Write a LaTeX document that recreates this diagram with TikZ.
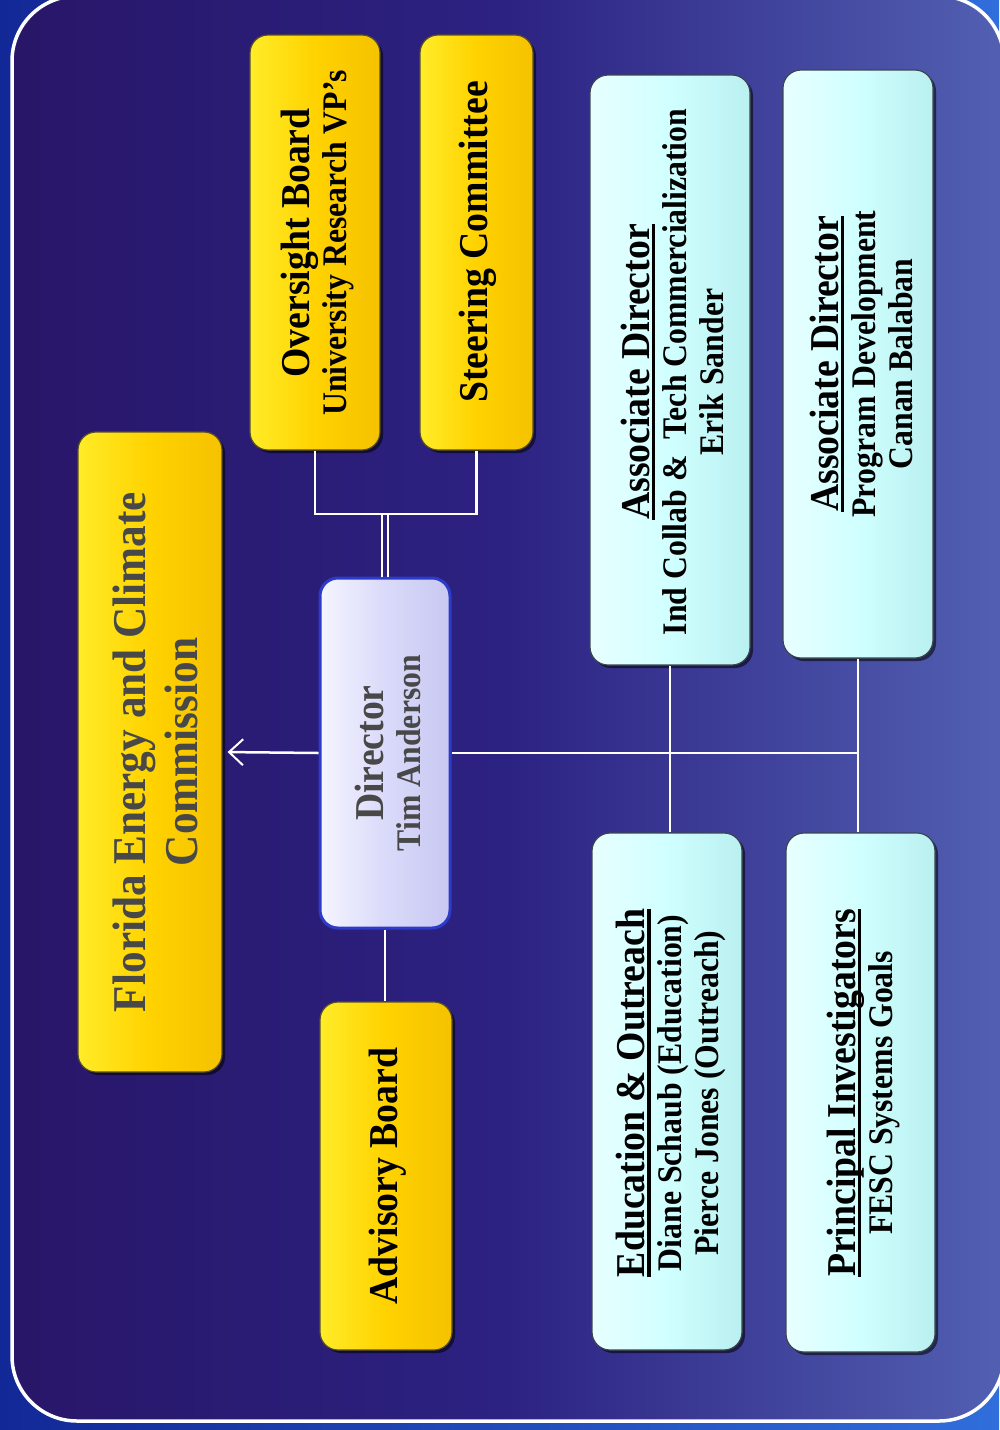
\documentclass[tikz,border=0pt]{standalone}
\usepackage{fontspec}
\setmainfont{Liberation Serif}[FakeStretch=0.92]
\usetikzlibrary{arrows.meta,shadows,calc}
\definecolor{outL}{RGB}{18,40,150}
\definecolor{outR}{RGB}{48,110,220}
\definecolor{inL}{RGB}{40,22,104}
\definecolor{inM}{RGB}{44,34,130}
\definecolor{inR}{RGB}{82,96,178}
\definecolor{yL}{RGB}{255,236,40}
\definecolor{yM}{RGB}{255,210,0}
\definecolor{yR}{RGB}{245,194,0}
\definecolor{ydraw}{RGB}{90,80,40}
\definecolor{cL}{RGB}{232,255,255}
\definecolor{cM}{RGB}{208,255,255}
\definecolor{cR}{RGB}{186,240,240}
\definecolor{cdraw}{RGB}{60,70,80}
\definecolor{dL}{RGB}{245,245,255}
\definecolor{dM}{RGB}{218,218,250}
\definecolor{dR}{RGB}{200,200,242}
\definecolor{ddraw}{RGB}{45,60,200}
\definecolor{greytxt}{RGB}{72,72,72}
\newcommand\hdf{\fontsize{41}{45}\selectfont}
\newcommand\subf{\fontsize{34.5}{37}\selectfont}
\newcommand\ulin[1]{\setbox0=\hbox{#1}\rlap{\rule[-6pt]{\wd0}{3.2pt}}\box0}
\tikzset{
  ybox/.style={rectangle, rounded corners=18pt, draw=ydraw, line width=1.2pt,
    left color=yL, right color=yR, middle color=yM,
    drop shadow={shadow xshift=3pt, shadow yshift=-3pt, opacity=0.55, fill=black}},
  cbox/.style={rectangle, rounded corners=18pt, draw=cdraw, line width=1.2pt,
    left color=cL, right color=cR, middle color=cM,
    drop shadow={shadow xshift=3pt, shadow yshift=-3pt, opacity=0.55, fill=black}},
  dbox/.style={rectangle, rounded corners=18pt, draw=ddraw, line width=3pt,
    left color=dL, right color=dR, middle color=dM},
  txt/.style={rotate=90, align=center, font=\bfseries\subf, inner sep=0pt},
  conn/.style={draw=white, line width=2.5pt},
}
\begin{document}
\begin{tikzpicture}[x=1pt,y=-1pt]
\useasboundingbox (0,0) rectangle (999,1430);
% background
\shade[left color=outL, right color=outR] (0,0) rectangle (999,1430);
\shade[rounded corners=65pt, left color=inL, right color=inR, middle color=inM] (12,-4) rectangle (1004,1421);
\draw[white, line width=3.5pt, rounded corners=65pt] (12,-4) rectangle (1004,1421);
% boxes
\node[ybox, minimum width=144pt, minimum height=640pt] (fecc) at (150,752) {};
\node[ybox, minimum width=130pt, minimum height=415pt] (ob) at (315,242.5) {};
\node[ybox, minimum width=113pt, minimum height=415pt] (sc) at (476.5,242.5) {};
\node[dbox, minimum width=130pt, minimum height=350pt] (dir) at (385,753) {};
\node[ybox, minimum width=132pt, minimum height=348pt] (ab) at (386,1176) {};
\node[cbox, minimum width=160pt, minimum height=590pt] (ad1) at (670,370) {};
\node[cbox, minimum width=150pt, minimum height=588pt] (ad2) at (858,364) {};
\node[cbox, minimum width=150pt, minimum height=517pt] (eo) at (667,1091.5) {};
\node[cbox, minimum width=149pt, minimum height=519pt] (pi) at (860.5,1092.5) {};
% texts
\node[txt, text=greytxt, font=\bfseries\fontsize{47}{52}\selectfont] (fecc-t) at (155,752) {Florida Energy and Climate\\Commission};
\node[txt] (ob-t) at (317,243) {{\hdf Oversight Board}\\University Research VP's};
\node[txt] (sc-t) at (478,242) {\hdf Steering Committee};
\node[txt, text=greytxt] (dir-t) at (388,753) {{\hdf Director}\\Tim Anderson};
\node[txt] (ab-t) at (388,1176) {\hdf Advisory Board};
\node[txt] (ad1-t) at (672,372) {{\hdf\ulin{Associate Director}}\\Ind Collab \&\ \ Tech Commercialization\\Erik Sander};
\node[txt] (ad2-t) at (861,364) {{\hdf\ulin{Associate Director}}\\Program Development\\Canan Balaban};
\node[txt] (eo-t) at (671,1093) {{\hdf\ulin{Education \& Outreach}}\\Diane Schaub (Education)\\Pierce Jones (Outreach)};
\node[txt] (pi-t) at (863,1093) {{\hdf\ulin{Principal Investigators}}\\FESC Systems Goals};
% connectors
\coordinate (j) at (385,514);
\draw[conn, shorten >=5pt, -{Straight Barb[length=14pt,width=26pt,line width=2pt]}] (dir.west) -- (fecc.east);
\draw[conn, line width=2.2pt] ([xshift=-2.8pt]dir.north) -- ([xshift=-2.8pt]dir.north |- j);
\draw[conn, line width=2.2pt] ([xshift=2.8pt]dir.north) -- ([xshift=2.8pt]dir.north |- j);
\draw[conn] (ob.south) -- (ob.south |- j) -- (sc.south |- j) -- (sc.south);
\draw[conn] (dir.south) -- (ab.north -| dir.south);
\draw[conn] (dir.east) -- (dir.east -| ad2.south);
\draw[conn] (ad1.south) -- (eo.north -| ad1.south);
\draw[conn] (ad2.south) -- (pi.north -| ad2.south);
\end{tikzpicture}
\end{document}
